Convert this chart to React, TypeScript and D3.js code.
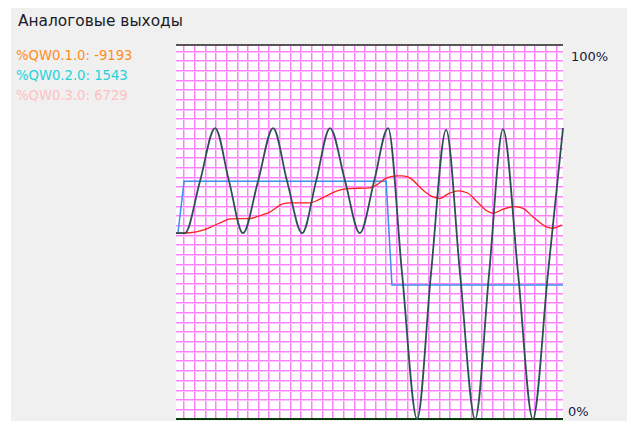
import React from "react";
import * as d3 from "d3";

// time axis: 0..100 (% of window), value axis: 0..100 %
const darkT = [0, 2.3, 6.2, 10.1, 13.7, 17.3, 21.2, 25.1, 28.7, 32.6, 36.2, 39.8, 43.7, 47.5, 51.2, 54.8, 58.4, 62.3, 65.9, 69.8, 73.4, 77.3, 80.9, 84.5, 88.4, 92.2, 96.1, 100];
const darkV = [49.7, 49.7, 63.6, 77.8, 63.6, 49.7, 63.6, 77.8, 63.6, 49.7, 63.6, 77.8, 63.6, 49.7, 63.6, 77.8, 39.0, 0, 39.0, 77.3, 38.8, 0, 38.8, 77.5, 38.8, 0, 38.8, 77.8];

const blueT = [0, 0.5, 2.1, 54.3, 55.8, 100];
const blueV = [49.7, 49.7, 63.6, 63.6, 35.8, 35.8];

const redT = [0, 3.6, 7.0, 9.6, 12.1, 14.0, 19.1, 20.9, 24.3, 27.6, 29.5, 34.6, 37.2, 41.6, 44.2, 50.1, 51.9, 54.5, 57.1, 58.4, 60.5, 63.8, 66.4, 68.2, 70.3, 72.9, 75.2, 77.8, 80.4, 81.9, 84.5, 87.6, 89.7, 92.2, 95.9, 97.2, 99.7];
const redV = [49.7, 49.8, 50.5, 51.6, 52.8, 53.5, 53.6, 54.1, 55.4, 57.5, 57.8, 57.8, 58.8, 61.0, 61.6, 61.8, 62.6, 64.5, 65.0, 65.0, 64.4, 61.2, 59.4, 59.0, 60.2, 61.0, 60.5, 58.1, 55.6, 55.0, 56.1, 56.8, 56.3, 54.1, 51.3, 51.0, 51.9];

const legendLabels = ["%QW0.1.0: -9193", "%QW0.2.0: 1543", "%QW0.3.0: 6729"];
const legendColors = ["#ff8c1e", "#22d3d8", "#ffc0c0"];
const title = "Аналоговые выходы";
const topLabel = "100%";
const bottomLabel = "0%";

export default function App() {
  const W = 627, H = 421;
  const left = 176, right = 563, top = 45, bottom = 419;
  const x = d3.scaleLinear().domain([0, 100]).range([left, right]);
  const y = d3.scaleLinear().domain([0, 100]).range([bottom, top]);

  const mk = (ts: number[], vs: number[]) => ts.map((t, i) => [t, vs[i]] as [number, number]);
  const smooth = d3.line<[number, number]>().x(d => x(d[0])).y(d => y(d[1])).curve(d3.curveMonotoneX);
  const straight = d3.line<[number, number]>().x(d => x(d[0])).y(d => y(d[1]));

  const vGrid = d3.range(183.3, 560, 10.64).map(Math.round);
  const hGrid = d3.range(50.7, 412, 9.68).map(Math.round);

  return (
    <svg width={W} height={H} style={{ position: "absolute", left: 0, top: 0 }} fontFamily="DejaVu Sans">
      <rect x={0} y={0} width={W} height={H} fill="#ffffff" />
      <rect x={11} y={8} width={W - 11} height={H - 8} fill="#f0f0f0" />
      <text x={18} y={26} fontSize={15.4} fill="#1c1c28">{title}</text>
      {legendLabels.map((l, i) => (
        <text key={l} x={16} y={60 + i * 20} fontSize={13.2} fill={legendColors[i]}>{l}</text>
      ))}
      <rect x={left} y={top} width={right - left} height={bottom - top} fill="#ffffff" />
      <g shapeRendering="crispEdges">
        {vGrid.map(v => (
          <g key={"v" + v}>
            <line x1={v + 0.5} x2={v + 0.5} y1={top} y2={bottom} stroke="#ff80ff" strokeWidth={1} />
            <line x1={v + 1.5} x2={v + 1.5} y1={top} y2={bottom} stroke="#ffc0ff" strokeWidth={1} />
          </g>
        ))}
        {hGrid.map(h => (
          <g key={"h" + h}>
            <line x1={left} x2={right} y1={h + 0.5} y2={h + 0.5} stroke="#ff80ff" strokeWidth={1} />
            <line x1={left} x2={right} y1={h + 1.5} y2={h + 1.5} stroke="#ffc0ff" strokeWidth={1} />
          </g>
        ))}
        <line x1={left} x2={right} y1={top} y2={top} stroke="#555555" strokeWidth={2} />
        <line x1={left} x2={right} y1={bottom} y2={bottom} stroke="#0a3a0a" strokeWidth={2} />
      </g>
      <path d={straight(mk(blueT, blueV)) || ""} fill="none" stroke="#3d8ef0" strokeWidth={1.5} />
      <path d={smooth(mk(redT, redV)) || ""} fill="none" stroke="#ff2020" strokeWidth={1.3} />
      <path d={smooth(mk(darkT, darkV)) || ""} fill="none" stroke="#2d5052" strokeWidth={1.8} />
      <text x={571} y={61} fontSize={13} fill="#1a1a3a">{topLabel}</text>
      <text x={568} y={416} fontSize={13} fill="#1a1a3a">{bottomLabel}</text>
    </svg>
  );
}
